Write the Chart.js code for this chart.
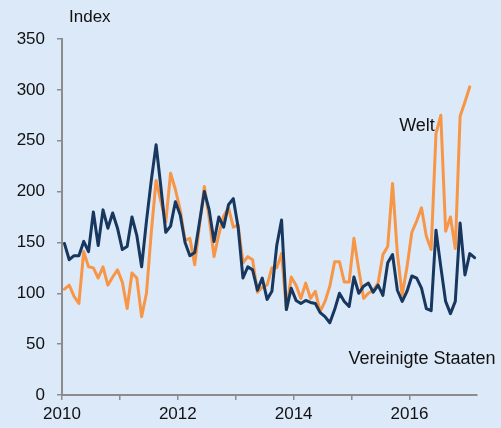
<!DOCTYPE html>
<html>
<head>
<meta charset="utf-8">
<script src="https://cdn.jsdelivr.net/npm/chart.js@4"></script>
<style>
  html, body { margin: 0; padding: 0; background: #dce9f8; }
  #wrap { width: 501px; height: 428px; position: relative; }
</style>
</head>
<body>
<div id="wrap"><canvas id="chart" width="501" height="428"></canvas></div>
<script>
// monatswerte ab Jan 2010 (index 0) bis Feb 2017
let startYear = 2010
let usa = [149,133,137,137,151,141,180,147,182,164,
    179,164,143,146,175,157,126,171,211,246,
    204,160,166,190,177,150,137,140,170,200,
    182,151,175,165,187,193,165,115,126,123,
    103,115,94,102,147,172,84,105,93,90,
    93,91,90,81,77,71,84,100,92,87,
    116,100,107,110,101,108,98,130,138,103,
    92,102,117,115,105,85,83,162,126,92,
    80,92,169,118,139,135]
let welt = [104,108,97,90,141,126,125,115,126,108,
    116,123,111,85,120,115,77,100,160,211,
    190,170,218,202,182,152,154,128,167,205,
    174,136,158,176,184,165,167,130,136,133,
    101,106,108,125,125,139,84,116,108,95,
    110,95,102,82,92,107,131,131,111,111,
    154,123,95,100,103,110,138,146,208,139,
    98,126,160,171,184,156,143,257,275,161,
    175,144,274,288,303]
let yTicks = [0, 50, 100, 150, 200, 250, 300, 350]
let labelUsa = "Vereinigte Staaten"
let labelWelt = "Welt"

function toPoints(arr) {
    let pts = []
    for (let i = 0; i < arr.length; i++) {
        pts.push({x: i + 0.5, y: arr[i]})
    }
    return pts
}

const axisGrey = '#8c8c8c'
const font = "'Liberation Sans', Arial, sans-serif"

// texte: Index, Welt, Vereinigte Staaten
const labels = {
    id: 'labels',
    afterDraw(chart) {
        let ctx = chart.ctx
        ctx.save()
        ctx.fillStyle = '#111'
        ctx.textBaseline = 'middle'
        ctx.font = "17px " + font
        ctx.textAlign = 'left'
        ctx.fillText("Index", 69, 17)
        ctx.font = "18px " + font
        ctx.textAlign = 'center'
        ctx.fillText(labelWelt, 417, 126)
        ctx.fillText(labelUsa, 422, 359)
        ctx.restore()
    }
}

new Chart(document.getElementById("chart"), {
    type: 'line',
    data: {
        datasets: [
            {
                label: labelUsa,
                data: toPoints(usa),
                borderColor: '#17375e',
                borderWidth: 3,
                pointRadius: 0,
                tension: 0,
                borderCapStyle: 'round',
                borderJoinStyle: 'round'
            },
            {
                label: labelWelt,
                data: toPoints(welt),
                borderColor: '#f79646',
                borderWidth: 3,
                pointRadius: 0,
                tension: 0,
                borderCapStyle: 'round',
                borderJoinStyle: 'round'
            }
        ]
    },
    options: {
        responsive: false,
        animation: false,
        layout: {padding: {top: 39, right: 24, left: 0, bottom: 0}},
        plugins: {legend: {display: false}, tooltip: {enabled: false}},
        scales: {
            x: {
                type: 'linear',
                min: 0,
                max: 86,
                afterBuildTicks: s => {
                    s.ticks = s.ticks.filter(t => t.value % 12 === 0)
                },
                afterFit: s => { s.height = 33 },
                ticks: {
                    stepSize: 12,
                    autoSkip: false,
                    maxRotation: 0,
                    padding: 4,
                    color: '#111',
                    font: {family: font, size: 17},
                    callback: v => ((v / 12) % 2 === 0 ? String(startYear + v / 12) : '')
                },
                grid: {drawOnChartArea: false, drawTicks: true, tickLength: 5, color: axisGrey, lineWidth: 1.5},
                border: {display: true, color: axisGrey, width: 2}
            },
            y: {
                min: 0,
                max: 350,
                afterBuildTicks: s => {
                    s.ticks = yTicks.map(v => ({value: v}))
                },
                afterFit: s => { s.width = 62 },
                ticks: {
                    padding: 12,
                    color: '#111',
                    font: {family: font, size: 17}
                },
                grid: {drawOnChartArea: false, drawTicks: true, tickLength: 5, color: axisGrey, lineWidth: 1.5},
                border: {display: true, color: axisGrey, width: 2}
            }
        }
    },
    plugins: [labels]
})
</script>
</body>
</html>
